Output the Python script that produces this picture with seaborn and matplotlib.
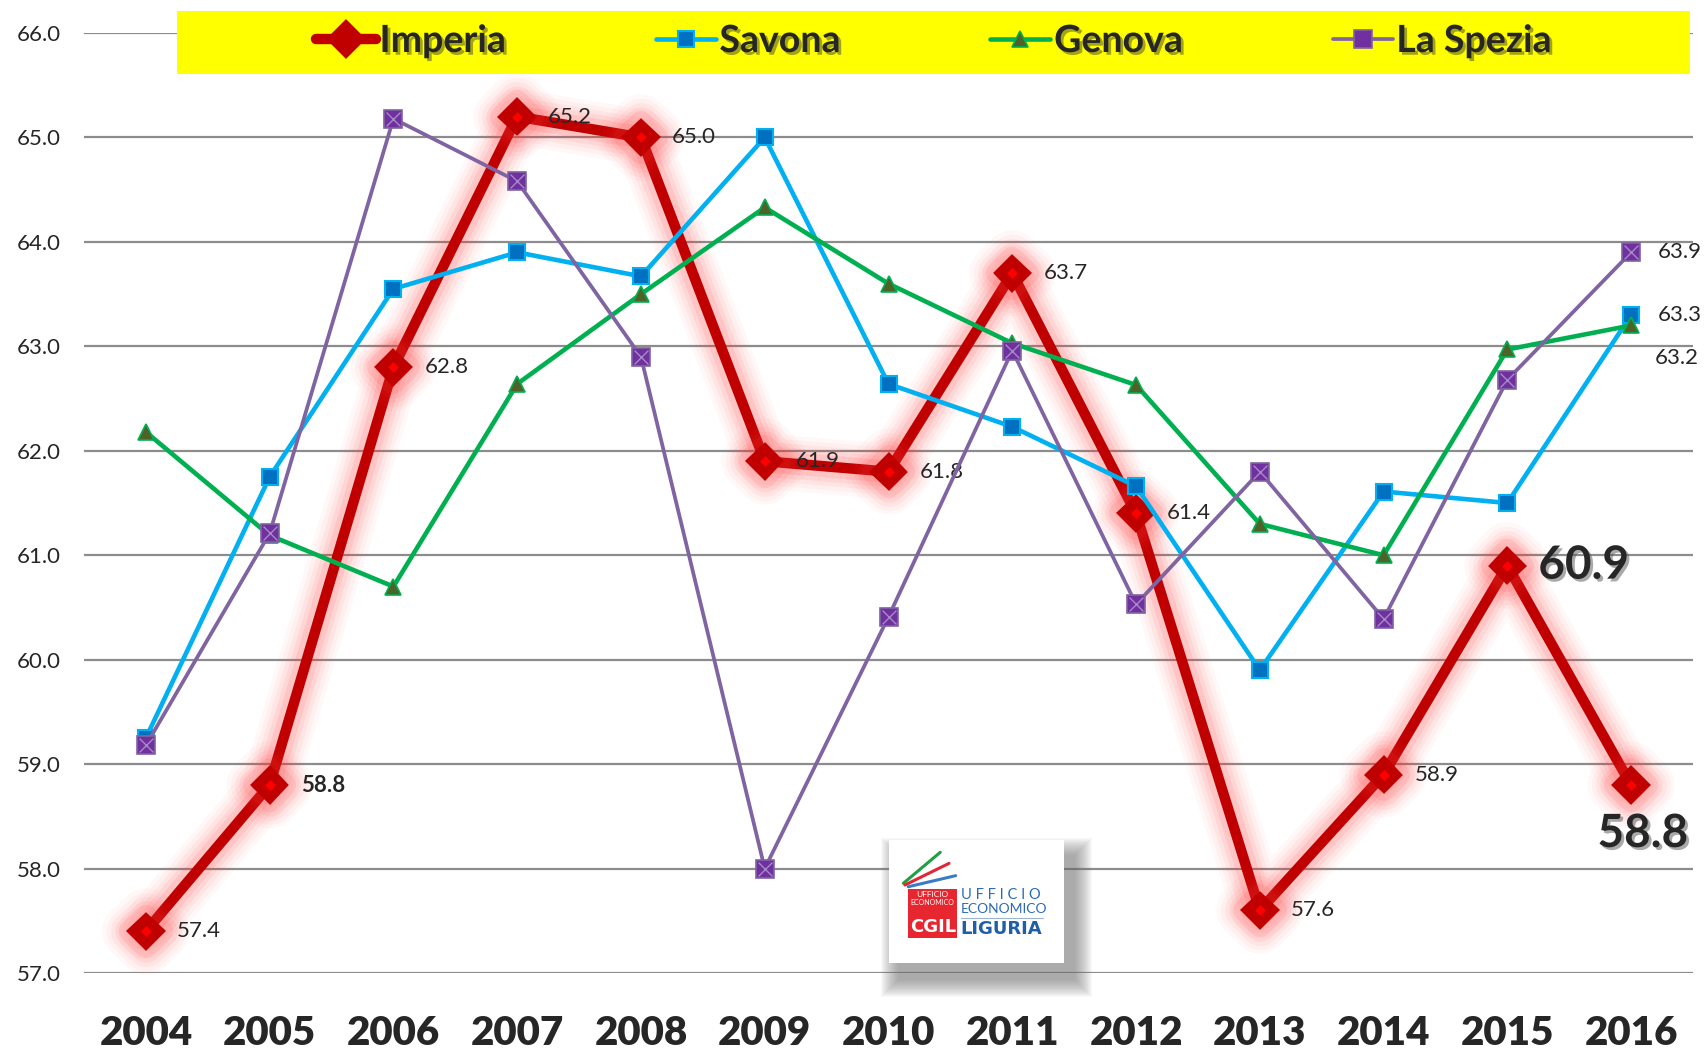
import numpy as np
import pandas as pd
import matplotlib
matplotlib.use("Agg")
import matplotlib.pyplot as plt
import matplotlib.patheffects as pe
from matplotlib.patches import Rectangle
import seaborn as sns

# data
years = [2004, 2005, 2006, 2007, 2008, 2009, 2010, 2011, 2012, 2013, 2014, 2015, 2016]
imperia = [57.4, 58.8, 62.8, 65.2, 65.0, 61.9, 61.8, 63.7, 61.4, 57.6, 58.9, 60.9, 58.8]
savona = [59.25, 61.75, 63.55, 63.9, 63.67, 65.0, 62.64, 62.23, 61.66, 59.9, 61.61, 61.5, 63.3]
genova = [62.18, 61.19, 60.7, 62.64, 63.5, 64.33, 63.6, 63.03, 62.63, 61.3, 61.0, 62.97, 63.2]
spezia = [59.18, 61.21, 65.18, 64.58, 62.9, 58.0, 60.41, 62.96, 60.53, 61.8, 60.39, 62.68, 63.9]
series_names = ["Imperia", "Savona", "Genova", "La Spezia"]
y_ticks = [57.0, 58.0, 59.0, 60.0, 61.0, 62.0, 63.0, 64.0, 65.0, 66.0]

sns.set_style("white")
plt.rcParams["font.family"] = ["Lato", "DejaVu Sans"]

W, H = 1707, 1055
fig = plt.figure(figsize=(W / 100, H / 100), dpi=100)
ax = fig.add_axes([84 / W, 1 - 973 / H, (1693 - 84) / W, (973 - 33) / H])

RED_DARK = "#C00000"
# soft red glow around the Imperia line
glow = [pe.Stroke(linewidth=lw, foreground="#FF3838", alpha=a, capstyle="round", joinstyle="round")
        for lw, a in [(40, 0.03), (34, 0.045), (28, 0.06), (22, 0.08), (16, 0.11)]] + [pe.Normal()]

sns.lineplot(x=years, y=imperia, ax=ax, color=RED_DARK, linewidth=7.5, marker="D", markersize=16,
             markerfacecolor=RED_DARK, markeredgecolor=RED_DARK, markeredgewidth=4,
             solid_joinstyle="round", path_effects=glow, label=series_names[0], zorder=2, clip_on=False)
sns.scatterplot(x=years, y=imperia, ax=ax, marker="D", s=30, color="#FF0000", linewidth=0, zorder=2.1)
sns.lineplot(x=years, y=savona, ax=ax, color="#00B0F0", linewidth=3.3, marker="s", markersize=12,
             markerfacecolor="#0070C0", markeredgecolor="#00B0F0", markeredgewidth=1.5,
             label=series_names[1], zorder=3)
sns.lineplot(x=years, y=genova, ax=ax, color="#00B050", linewidth=3.3, marker="^", markersize=12,
             markerfacecolor="#4F6228", markeredgecolor="#00B050", markeredgewidth=1.2,
             label=series_names[2], zorder=4)
sns.lineplot(x=years, y=spezia, ax=ax, color="#8064A2", linewidth=2.7, marker="s", markersize=13,
             markerfacecolor="#7030A0", markeredgecolor="#8064A2", markeredgewidth=1.2,
             label=series_names[3], zorder=5)
sns.scatterplot(x=years, y=spezia, ax=ax, marker="x", s=100, color="#A58BC6", linewidth=1.0, zorder=6)

handles, labels = ax.get_legend_handles_labels()
if ax.get_legend() is not None:
    ax.get_legend().remove()

# axes styling
ax.set_xlim(years[0] - 0.5, years[-1] + 0.5)
ax.set_ylim(y_ticks[0], y_ticks[-1])
ax.set_xticks(years)
ax.set_xticklabels([str(y) for y in years], fontsize=29, fontweight="heavy")
ax.set_yticks(y_ticks)
ax.set_yticklabels([f"{v:.1f}" for v in y_ticks], fontsize=16)
ax.tick_params(axis="x", length=0, pad=30)
ax.tick_params(axis="y", length=0, pad=17)
ax.grid(axis="y", color="#8C8C8C", linewidth=1.6)
ax.grid(axis="x", visible=False)
ax.set_axisbelow(True)
for s in ax.spines.values():
    s.set_visible(False)
ax.set_xlabel("")
ax.set_ylabel("")

# data labels for Imperia
shadow_txt = [pe.withSimplePatchShadow(offset=(2, -2), shadow_rgbFace="#555555", alpha=0.5)]
for yr, v in zip(years, imperia):
    if yr == 2015:
        ax.annotate(f"{v:.1f}", (yr, v), xytext=(31, 0), textcoords="offset pixels",
                    ha="left", va="center", fontsize=33, fontweight="bold", path_effects=shadow_txt)
    elif yr == 2016:
        ax.annotate(f"{v:.1f}", (yr, v), xytext=(57, -49), textcoords="offset pixels",
                    ha="right", va="center", fontsize=33, fontweight="bold", path_effects=shadow_txt,
                    annotation_clip=False)
    else:
        ax.annotate(f"{v:.1f}", (yr, v), xytext=(31, 0), textcoords="offset pixels",
                    ha="left", va="center", fontsize=16,
                    fontweight="bold" if yr == 2005 else "normal")

# end labels for the other series
ax.annotate(f"{spezia[-1]:.1f}", (years[-1], spezia[-1]), xytext=(27, 0), textcoords="offset pixels",
            ha="left", va="center", fontsize=16, annotation_clip=False)
ax.annotate(f"{savona[-1]:.1f}", (years[-1], savona[-1]), xytext=(27, 0), textcoords="offset pixels",
            ha="left", va="center", fontsize=16, annotation_clip=False)
ax.annotate(f"{genova[-1]:.1f}", (years[-1], genova[-1]), xytext=(24, -33), textcoords="offset pixels",
            ha="left", va="center", fontsize=16, annotation_clip=False)

# yellow legend band
fig.patches.append(Rectangle((177 / W, 1 - 74 / H), (1690 - 177) / W, 63 / H,
                             transform=fig.transFigure, facecolor="#FFFF00", edgecolor="none", zorder=1))
keep = [(h, l) for h, l in zip(handles, labels) if l in series_names]
leg = fig.legend([h for h, _ in keep], [l for _, l in keep], loc="center",
                 bbox_to_anchor=((177 + 1690) / 2 / W, 1 - 41 / H), ncol=4, frameon=False,
                 prop={"size": 27, "weight": "bold"}, handlelength=1.6, handletextpad=0.1,
                 columnspacing=4.0)
leg.set_zorder(3)
for h in leg.legend_handles:
    h.set_path_effects([])
for t in leg.get_texts():
    t.set_path_effects([pe.withSimplePatchShadow(offset=(2, -2), shadow_rgbFace="#333333", alpha=0.45)])

# logo box with soft shadow
bx0, by0, bx1, by1 = 889, 840, 1064, 963
for g in range(18, 0, -1):
    fig.patches.append(Rectangle(((bx0 + 10 - g) / W, 1 - (by1 + 16 + g) / H),
                                 (bx1 - bx0 + 2 * g) / W, (by1 - by0 + 2 * g) / H,
                                 transform=fig.transFigure, facecolor="#707070", edgecolor="none",
                                 alpha=0.045, zorder=1.5))
lax = fig.add_axes([bx0 / W, 1 - by1 / H, (bx1 - bx0) / W, (by1 - by0) / H])
lax.set_zorder(4)
lax.set_xlim(0, 1)
lax.set_ylim(0, 1)
lax.set_facecolor("white")
lax.set_xticks([])
lax.set_yticks([])
for s in lax.spines.values():
    s.set_visible(False)
lax.plot([0.082, 0.293], [0.648, 0.90], color="#1FA043", linewidth=2.2, solid_capstyle="round")
lax.plot([0.091, 0.343], [0.634, 0.81], color="#E32636", linewidth=2.2, solid_capstyle="round")
lax.plot([0.11, 0.381], [0.62, 0.71], color="#3A7CC4", linewidth=2.2, solid_capstyle="round")
lax.add_patch(Rectangle((0.11, 0.20), 0.28, 0.40, facecolor="#E8262F", edgecolor="none"))
lax.text(0.25, 0.555, "UFFICIO", color="white", fontsize=6, ha="center", va="center")
lax.text(0.25, 0.49, "ECONOMICO", color="white", fontsize=5, ha="center", va="center")
lax.text(0.25, 0.29, "CGIL", color="white", fontsize=13, fontweight="bold", ha="center", va="center",
         family=["DejaVu Sans"])
lax.text(0.41, 0.553, "U F F I C I O", color="#2B6CB0", fontsize=10.5, ha="left", va="center")
lax.text(0.41, 0.437, "ECONOMICO", color="#2B6CB0", fontsize=10, ha="left", va="center")
lax.plot([0.41, 0.88], [0.363, 0.363], color="#9AB6D6", linewidth=0.8)
lax.text(0.41, 0.28, "LIGURIA", color="#1F5FA8", fontsize=13, fontweight="bold", ha="left",
         va="center", family=["DejaVu Sans"])

fig.savefig("out.png", dpi=100)
